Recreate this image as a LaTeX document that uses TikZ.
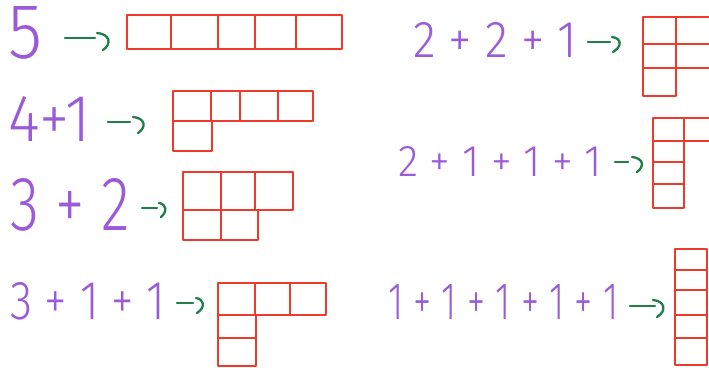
\documentclass[tikz,border=0pt]{standalone}
\usepackage{fontspec}
\newfontfamily\hand{Fira Sans Light}
\definecolor{hpurple}{RGB}{155,90,215}
\definecolor{hred}{RGB}{238,58,42}
\definecolor{hgreen}{RGB}{28,128,72}
\tikzset{
  cell/.style={draw=hred, line width=1.7pt, line join=round},
  lbl/.style={text=hpurple, inner sep=0pt, anchor=south west, font=\hand},
  arr/.style={draw=hgreen, line width=2.3pt, line cap=round, line join=round},
}
\begin{document}
\begin{tikzpicture}[x=1pt,y=-1pt]
\useasboundingbox (0,0) rectangle (709,367);
\clip (0,0) rectangle (709,367);
% labels
\node[lbl] (t1) at (8,60)   {\resizebox{34pt}{52pt}{5}};
\node[lbl] (t2) at (8,142)  {\resizebox{82pt}{45pt}{4+1}};
\node[lbl] (t3) at (10,232) {\resizebox{120pt}{52pt}{3 + 2}};
\node[lbl] (t4) at (10,320) {\resizebox{155pt}{37pt}{3 + 1 + 1}};
\node[lbl] (t5) at (413,58) {\resizebox{164pt}{35pt}{2 + 2 + 1}};
\node[lbl] (t6) at (398,177){\resizebox{204pt}{30pt}{2 + 1 + 1 + 1}};
\node[lbl] (t7) at (388,320){\resizebox{230pt}{35pt}{1 + 1 + 1 + 1 + 1}};
% arrows: dash start x, dash end x, dash y, hook start, hook right x, hook end
\foreach \k/\ax/\bx/\ay/\sx/\sy/\ex/\fx/\fy in {
    1/65/95/38/97/33/110/103/50,
    2/108/130/122/133/117/145/138/133,
    3/142/157/208/159/203/166/161/217,
    4/177/193/303/196/298/204/197/313,
    5/588/610/42/612/37/621/613/52,
    6/615/628/162/632/157/643/637/172,
    7/630/655/306/653/300/665/657/317}{
  \coordinate (d\k a) at (\ax,\ay);
  \coordinate (d\k b) at (\bx,\ay);
  \coordinate (h\k a) at (\sx,\sy);
  \coordinate (h\k b) at (\fx,\fy);
  \draw[arr] (d\k a) -- (d\k b);
  \draw[arr] (h\k a) .. controls (\ex,\sy+1) and (\ex+2,\fy-6) .. (h\k b);
}
% diagram 5
\foreach \a/\b in {127/171,171/218,218/255,255/296,296/342}
  \draw[cell] (\a,15) rectangle (\b,49);
% diagram 4+1
\foreach \a/\b in {173/211,211/240,240/278,278/313}
  \draw[cell] (\a,91) rectangle (\b,121);
\draw[cell] (173,121) rectangle (212,151);
% diagram 3+2
\foreach \a/\b in {183/221,221/255,255/293}
  \draw[cell] (\a,172) rectangle (\b,210);
\foreach \a/\b in {183/221,221/258}
  \draw[cell] (\a,210) rectangle (\b,240);
% diagram 3+1+1
\foreach \a/\b in {218/255,255/290,290/326}
  \draw[cell] (\a,283) rectangle (\b,315);
\foreach \a/\b in {315/338,338/366}
  \draw[cell] (218,\a) rectangle (256,\b);
% diagram 2+2+1
\foreach \a/\b in {17/44,44/68}{
  \draw[cell] (643,\a) rectangle (676,\b);
  \draw[cell] (676,\a) rectangle (714,\b);}
\draw[cell] (643,68) rectangle (676,96);
% diagram 2+1+1+1
\foreach \a/\b in {118/141,141/162,162/184,184/208}
  \draw[cell] (653,\a) rectangle (684,\b);
\draw[cell] (684,118) rectangle (714,141);
% diagram 1+1+1+1+1
\foreach \a/\b in {249/270,270/290,290/315,315/338,338/365}
  \draw[cell] (675,\a) rectangle (707,\b);
\end{tikzpicture}
\end{document}
